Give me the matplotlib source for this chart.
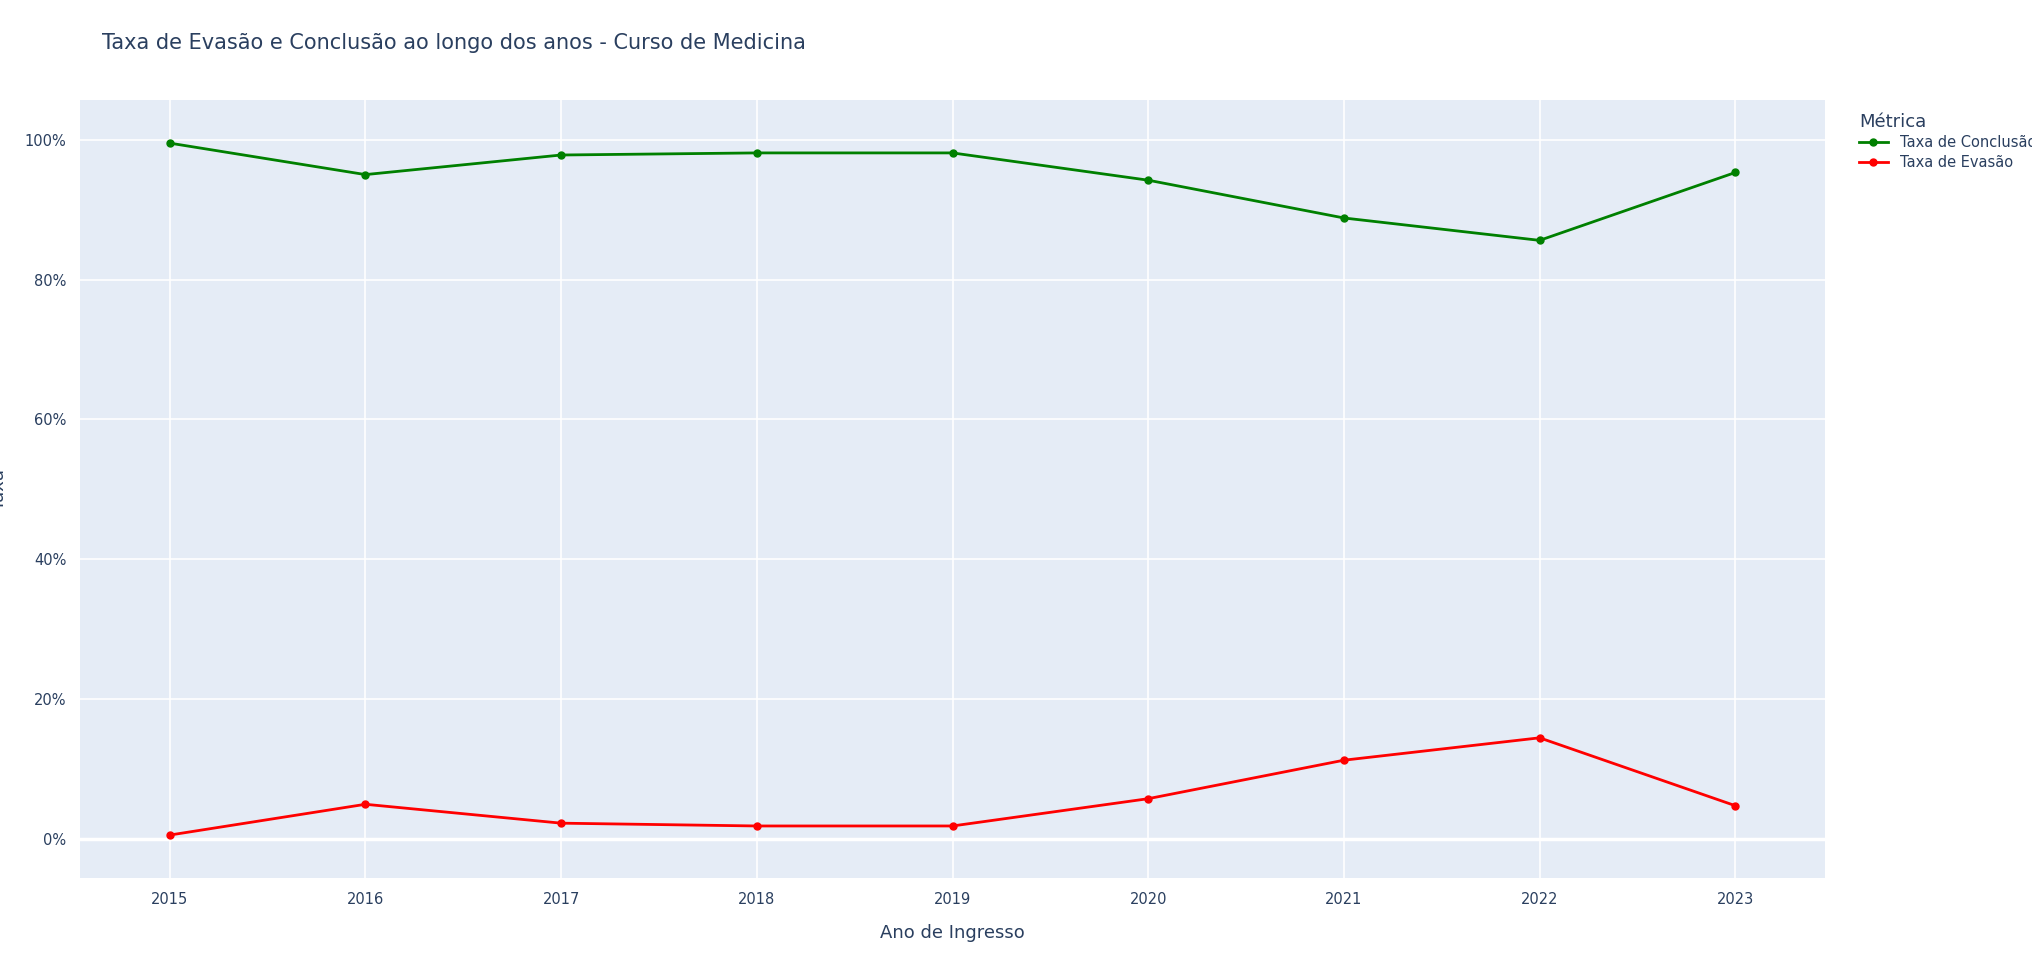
import matplotlib
matplotlib.use("Agg")
import matplotlib.pyplot as plt
from matplotlib.ticker import FuncFormatter

anos = [2015, 2016, 2017, 2018, 2019, 2020, 2021, 2022, 2023]
conclusao = [99.5, 95.0, 97.8, 98.1, 98.1, 94.2, 88.8, 85.6, 95.3]
evasao = [0.6, 5.0, 2.3, 1.9, 1.9, 5.8, 11.3, 14.5, 4.8]

fig = plt.figure(figsize=(20.32, 9.59), dpi=100)
ax = fig.add_axes([0.0395, 0.084, 0.8585, 0.812])
ax.set_facecolor("#E5ECF6")
for s in ax.spines.values():
    s.set_visible(False)
ax.grid(True, color="white", linewidth=1.2)
ax.set_axisbelow(True)
ax.tick_params(length=0, colors="#2a3f5f", labelsize=10.5, pad=10)

ax.plot(anos, conclusao, color="green", lw=2, marker="o", ms=5, label="Taxa de Conclusão")
ax.plot(anos, evasao, color="red", lw=2, marker="o", ms=5, label="Taxa de Evasão")
ax.axhline(0, color="white", lw=2.5, zorder=1)

ax.set_xlim(2015 - 0.457, 2023 + 0.457)
ax.set_ylim(-5.6, 105.7)
ax.set_xticks(anos)
ax.set_yticks([0, 20, 40, 60, 80, 100])
ax.yaxis.set_major_formatter(FuncFormatter(lambda v, p: f"{v:.0f}%"))
ax.set_xlabel("Ano de Ingresso", fontsize=13, color="#2a3f5f", labelpad=12)
ax.set_ylabel("Taxa", fontsize=13, color="#2a3f5f", labelpad=12)

fig.text(0.05, 0.955, "Taxa de Evasão e Conclusão ao longo dos anos - Curso de Medicina",
         fontsize=15, color="#2a3f5f", va="center")

leg = ax.legend(loc="upper left", bbox_to_anchor=(1.012, 1.0), frameon=False,
                title="Métrica", fontsize=10.5, title_fontsize=13, labelcolor="#2a3f5f",
                handlelength=2, alignment="left", labelspacing=0.3)
leg.get_title().set_color("#2a3f5f")

fig.savefig("out.png", dpi=100)
